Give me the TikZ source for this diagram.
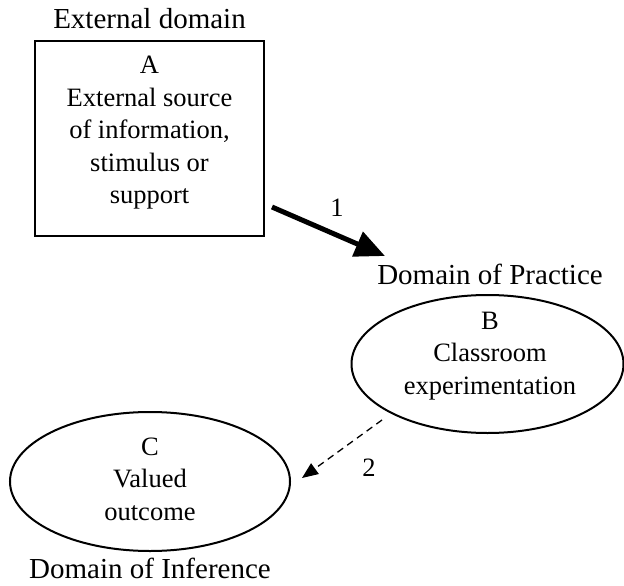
\documentclass[tikz,border=0pt]{standalone}
\usepackage{fontspec}
\setmainfont{Liberation Serif}
\usetikzlibrary{shapes.geometric,arrows.meta}
\tikzset{
  inner/.style={font=\fontsize{26.5}{32.5}\selectfont, inner sep=0pt, align=center},
  outer/.style={font=\fontsize{29}{32}\selectfont, inner sep=0pt, align=center},
  ell/.style={ellipse, draw, line width=2pt, inner sep=0pt},
  boxA/.style={draw, line width=2.2pt, inner sep=0pt},
}
\begin{document}
\begin{tikzpicture}[x=1pt,y=1pt]
\useasboundingbox (0,0) rectangle (624,-586);
\node[outer] (extlbl) at (149.5,-19) {External domain};
\node[boxA, minimum width=229pt, minimum height=195pt] (A) at (149.5,-138.5) {};
\node[inner] (Atext) at (149.5,-133) {A\\External source\\of information,\\stimulus or\\support};
\node[outer] (praclbl) at (490,-274) {Domain of Practice};
\node[ell, minimum width=272pt, minimum height=138pt] (B) at (487.5,-364) {};
\node[inner] (Btext) at (490,-356) {B\\Classroom\\experimentation};
\node[ell, minimum width=280pt, minimum height=139pt] (C) at (150,-481.5) {};
\node[inner] (Ctext) at (150,-479) {C\\Valued\\outcome};
\node[outer, anchor=base] (inflbl) at (150,-578) {Domain of Inference};
\coordinate (a1s) at (272,-207);
\coordinate (a1e) at (385,-256);
\draw[line width=5pt, -{Triangle[length=30pt,width=26pt]}] (a1s) -- (a1e);
\node[inner] (n1) at (337,-208) {1};
\coordinate (a2s) at (382,-420);
\coordinate (a2e) at (302,-478);
\draw[line width=1.3pt, dash pattern=on 7pt off 5pt, -{Triangle[length=16pt,width=13pt]}] (a2s) -- (a2e);
\node[inner] (n2) at (369,-468) {2};
\end{tikzpicture}
\end{document}
